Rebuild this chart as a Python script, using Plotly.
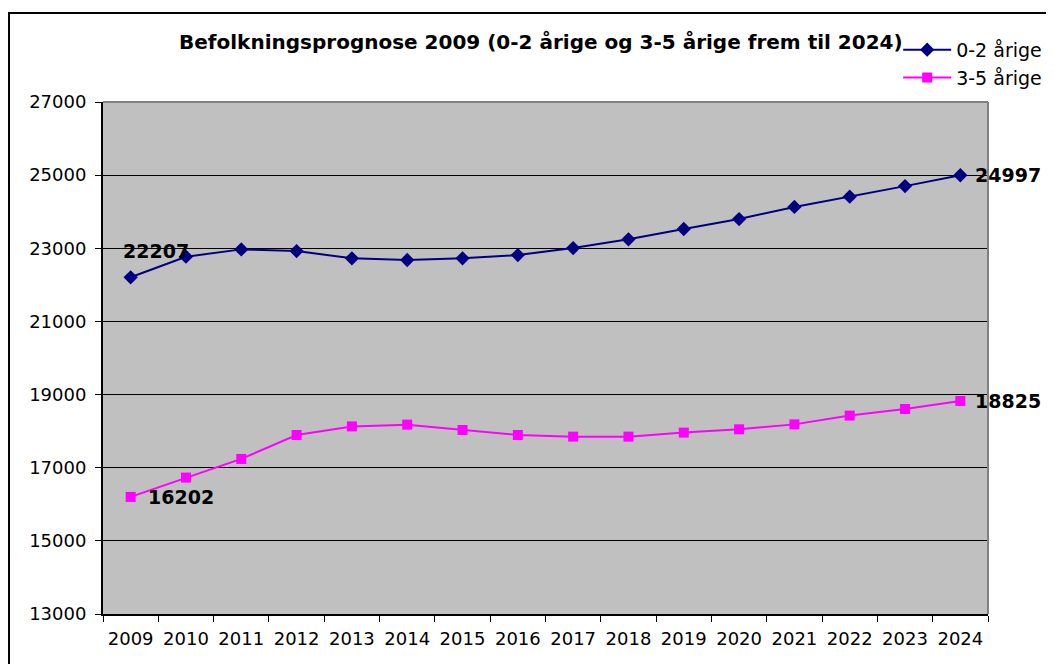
import plotly.graph_objects as go

years = [str(y) for y in range(2009, 2025)]
age_0_2 = [22207, 22770, 22970, 22925, 22725, 22680, 22725, 22815, 23005,
           23245, 23528, 23800, 24130, 24410, 24700, 24997]
age_3_5 = [16202, 16730, 17240, 17895, 18130, 18178, 18032, 17895, 17850,
           17850, 17960, 18050, 18185, 18425, 18605, 18825]
y_ticks = [13000, 15000, 17000, 19000, 21000, 23000, 25000, 27000]
title = "Befolkningsprognose 2009 (0-2 årige og 3-5 årige frem til 2024)"

font_family = "DejaVu Sans, Verdana, sans-serif"

fig = go.Figure()
fig.add_trace(go.Scatter(
    x=years, y=age_0_2, name="0-2 årige", mode="lines+markers",
    line=dict(color="#000080", width=2),
    marker=dict(symbol="diamond", size=11, color="#000080"),
))
fig.add_trace(go.Scatter(
    x=years, y=age_3_5, name="3-5 årige", mode="lines+markers",
    line=dict(color="#FF00FF", width=2),
    marker=dict(symbol="square", size=10, color="#FF00FF"),
))

first = years.index(years[0])
last = years.index(years[-1])
label_style = dict(size=19, color="black", family=font_family)
fig.add_annotation(x=first, y=age_0_2[0], text="<b>%d</b>" % age_0_2[0],
                   showarrow=False, xanchor="left", yanchor="bottom",
                   xshift=-10, yshift=13, font=label_style)
fig.add_annotation(x=first, y=age_3_5[0], text="<b>%d</b>" % age_3_5[0],
                   showarrow=False, xanchor="left", yanchor="middle",
                   xshift=15, yshift=0, font=label_style)
fig.add_annotation(x=last, y=age_0_2[-1], text="<b>%d</b>" % age_0_2[-1],
                   showarrow=False, xanchor="left", yanchor="middle",
                   xshift=13, yshift=0, font=label_style)
fig.add_annotation(x=last, y=age_3_5[-1], text="<b>%d</b>" % age_3_5[-1],
                   showarrow=False, xanchor="left", yanchor="middle",
                   xshift=13, yshift=0, font=label_style)

fig.add_annotation(xref="paper", yref="paper", x=0.495, y=1.117,
                   text="<b>%s</b>" % title, showarrow=False,
                   xanchor="center", yanchor="middle",
                   font=dict(size=20, color="black", family=font_family))

# outer chart border
fig.add_shape(type="rect", xref="paper", yref="paper",
              x0=-0.1062, x1=1.3, y0=-0.3, y1=1.174,
              line=dict(color="black", width=2), layer="below")

fig.update_layout(
    width=1046, height=656,
    margin=dict(l=95, r=66, t=94, b=50, autoexpand=False),
    paper_bgcolor="white", plot_bgcolor="#C0C0C0",
    font=dict(family=font_family, size=18, color="black"),
    showlegend=True,
    legend=dict(x=0.8985, y=1.139, xanchor="left", yanchor="top",
                bgcolor="rgba(0,0,0,0)", font=dict(size=19),
                tracegroupgap=0, itemwidth=48),
    xaxis=dict(type="category", range=[-0.5, 15.5], showgrid=False,
               showline=True, linecolor="black", linewidth=2,
               ticks="outside", tickson="boundaries", ticklen=6,
               tickcolor="black", tickfont=dict(size=18), mirror=False,
               ticklabelstandoff=7),
    yaxis=dict(range=[13000, 27000], tickvals=y_ticks,
               ticktext=[str(v) for v in y_ticks],
               showgrid=True, gridcolor="black", gridwidth=1,
               showline=True, linecolor="black", linewidth=2,
               ticks="outside", ticklen=6, tickcolor="black",
               tickfont=dict(size=18), zeroline=False,
               ticklabelstandoff=5),
)
# gray border on top and right of plot area
fig.add_shape(type="line", xref="paper", yref="paper", x0=0, x1=1, y0=1, y1=1,
              line=dict(color="#808080", width=2))
fig.add_shape(type="line", xref="paper", yref="paper", x0=1, x1=1, y0=0, y1=1,
              line=dict(color="#808080", width=2))

fig.write_html("out.html")
